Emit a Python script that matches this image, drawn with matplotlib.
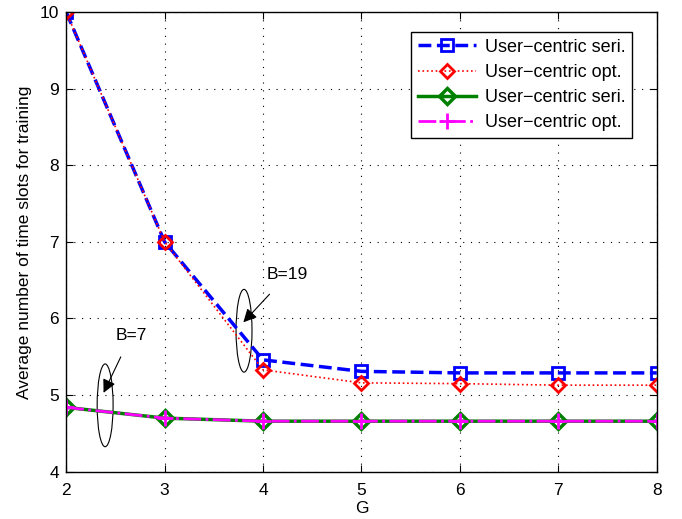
import numpy as np
import matplotlib as mpl
mpl.use('Agg')
import matplotlib.pyplot as plt
from matplotlib.patches import Ellipse

plt.rcParams['font.family'] = ['Liberation Sans', 'DejaVu Sans']

G = [2, 3, 4, 5, 6, 7, 8]
seri_19 = [10.0, 7.0, 5.46, 5.31, 5.29, 5.29, 5.29]
opt_19 = [10.0, 7.0, 5.33, 5.16, 5.15, 5.13, 5.13]
seri_7 = [4.84, 4.70, 4.66, 4.66, 4.66, 4.66, 4.66]
opt_7 = [4.84, 4.70, 4.66, 4.66, 4.66, 4.66, 4.66]
labels = ['User\u2212centric seri.', 'User\u2212centric opt.',
          'User\u2212centric seri.', 'User\u2212centric opt.']

fs = 12.5

fig = plt.figure(figsize=(6.82, 5.19), dpi=100)
ax = fig.add_axes([0.097, 0.091, 0.866, 0.886])

ax.plot(G, seri_19, '--', color='blue', lw=2.5, marker='s', ms=8,
        mfc='none', mec='blue', mew=2, label=labels[0])
ax.plot(G, opt_19, ':', color='red', lw=1.2, marker='D', ms=7.5,
        mfc='none', mec='red', mew=2, label=labels[1])
ax.plot(G, seri_7, '-', color='green', lw=2.5, marker='D', ms=8,
        mfc='none', mec='green', mew=2.5, label=labels[2])
ax.plot(G, opt_7, '-.', color='magenta', lw=2, marker='+', ms=12,
        mew=2, label=labels[3])

ax.set_xlim(2, 8)
ax.set_ylim(4, 10)
ax.set_xticks(G)
ax.set_yticks(range(4, 11))
ax.grid(True, linestyle=(0, (1, 6)), color='black', lw=0.8)
ax.tick_params(direction='in', labelsize=fs, top=True, right=True, length=5)
ax.tick_params(axis='x', pad=8)
ax.tick_params(axis='y', pad=5)
for s in ax.spines.values():
    s.set_linewidth(1)

ax.set_xlabel('G', fontsize=fs, labelpad=2)
ax.set_ylabel('Average number of time slots for training', fontsize=fs, labelpad=6)

ax.add_patch(Ellipse((3.807, 5.84), 0.162, 1.08, fill=False, color='black', lw=0.8))
ax.add_patch(Ellipse((2.396, 4.867), 0.162, 1.08, fill=False, color='black', lw=0.8))

ax.annotate('B=19', xy=(3.8, 5.95), xytext=(4.25, 6.57), fontsize=fs,
            ha='center', va='center',
            arrowprops=dict(arrowstyle='-|>', color='black', lw=0.8,
                            mutation_scale=20, shrinkA=9, shrinkB=0))
ax.annotate('B=7', xy=(2.38, 5.03), xytext=(2.66, 5.78), fontsize=fs,
            ha='center', va='center',
            arrowprops=dict(arrowstyle='-|>', color='black', lw=0.8,
                            mutation_scale=20, shrinkA=9, shrinkB=0))

leg = ax.legend(loc='upper right', bbox_to_anchor=(0.974, 0.977), fontsize=13,
                fancybox=False, edgecolor='black', framealpha=1,
                handlelength=3.2, borderpad=0.4, labelspacing=0.45,
                handletextpad=0.5)
leg.get_frame().set_linewidth(1)

plt.savefig('out.png', dpi=100)
plt.close()
